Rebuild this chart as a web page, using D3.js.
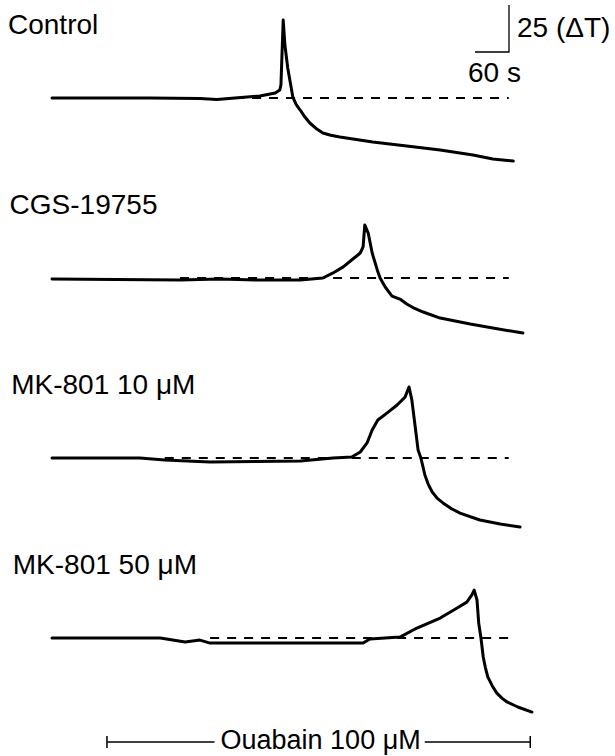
<!DOCTYPE html>
<html>
<head>
<meta charset="utf-8">
<script src="https://cdn.jsdelivr.net/npm/d3@7"></script>
<style>
  body { margin: 0; background: #fff; }
  svg { display: block; }
  text { font-family: "Liberation Sans", Arial, sans-serif; font-size: 28px; fill: #000; }
</style>
</head>
<body>
<svg width="615" height="756"></svg>
<script>
'use strict'

// trace names, top to bottom
const traces = ['Control', 'CGS-19755', 'MK-801 10 \u03bcM', 'MK-801 50 \u03bcM'];

// time (s) and temperature change (ΔT, relative to baseline)
const controlT = [0, 173, 261, 291, 323, 367, 394, 402, 404, 408, 411, 416, 425, 431, 438, 446, 455, 466, 478, 492, 508, 566, 626, 685, 743, 778, 814];
const controlV = [0, 0, -0.3, -0.8, 0, 1.1, 2.7, 4.3, 6.9, 41.5, 28.2, 16, 0.5, -3.5, -6.4, -10.0, -13.3, -16.2, -18.6, -19.8, -20.7, -23.4, -25.5, -27.7, -30.3, -32.4, -33.5];

const cgsT = [0, 226, 296, 367, 438, 478, 496, 514, 531, 544, 549, 552, 558, 565, 574, 579, 588, 600, 614, 626, 640, 655, 685, 738, 778, 831];
const cgsV = [-0.5, -1.1, -0.5, -1.1, -1.1, 0, 2.7, 5.9, 10.1, 13.3, 16.5, 28.2, 23.9, 13.3, 4.3, 0, -4.8, -9.6, -11.2, -13.8, -16.2, -18.1, -21.3, -24.5, -26.6, -29.3];

const mk10T = [0, 155, 199, 279, 438, 496, 529, 544, 556, 565, 575, 591, 609, 623, 630, 635, 641, 646, 651, 658, 664, 671, 680, 690, 705, 720, 755, 791, 826];
const mk10V = [0, 0, -1.1, -2.1, -1.6, 0, 0.5, 3.2, 8.0, 14.9, 20.2, 23.9, 28.2, 32.4, 37.8, 30.9, 16.5, 4.3, 0, -9.0, -14.0, -18.1, -21.5, -23.9, -27.0, -29.3, -33.0, -35.1, -36.7];

const mk50T = [0, 191, 235, 261, 279, 438, 549, 561, 614, 644, 685, 715, 732, 741, 745, 750, 753, 757, 761, 765, 769, 777, 785, 794, 803, 822, 847];
const mk50V = [0, 0, -2.1, -1.1, -2.7, -2.7, -2.7, -0.5, 0.5, 5.3, 10.6, 16.0, 19.1, 22.9, 25.5, 20.2, 8.0, 0, -10.1, -16.0, -20.7, -25.5, -29.3, -32.0, -34.0, -36.7, -39.4];

// dashed baseline extent (s) for each trace
const dashStart = [323, 226, 199, 279];
const dashEnd = 806;

// ouabain application (s)
const ouabain = [97, 844];
const ouabainLabel = 'Ouabain 100 \u03bcM';

// scale bar
const barTime = 60;
const barTemp = 25;

const series = [
  { name: traces[0], t: controlT, v: controlV },
  { name: traces[1], t: cgsT, v: cgsV },
  { name: traces[2], t: mk10T, v: mk10V },
  { name: traces[3], t: mk50T, v: mk50V }
].map((s, i) => ({ ...s, dash: dashStart[i], pts: s.t.map((t, j) => ({ t: t, v: s.v[j] })) }));

const svg = d3.select('svg');

const x = d3.scaleLinear().domain([0, 60]).range([52, 86]);
const base = d3.scalePoint().domain(traces).range([98, 638]);
const dy = d3.scaleLinear().domain([0, 25]).range([0, 47]);

const line = d3.line()
  .x(d => x(d.t))
  .y(d => d.y);

const g = svg.selectAll('g.trace')
  .data(series)
  .join('g')
  .attr('class', 'trace');

// dashed baseline
g.append('line')
  .attr('x1', d => x(d.dash))
  .attr('x2', x(dashEnd))
  .attr('y1', d => base(d.name))
  .attr('y2', d => base(d.name))
  .attr('stroke', '#000')
  .attr('stroke-width', 2)
  .attr('stroke-dasharray', '9,8');

// trace
g.append('path')
  .attr('d', d => line(d.pts.map(p => ({ t: p.t, y: base(d.name) - dy(p.v) }))))
  .attr('fill', 'none')
  .attr('stroke', '#000')
  .attr('stroke-width', 3)
  .attr('stroke-linejoin', 'round')
  .attr('stroke-linecap', 'round');

// label
g.append('text')
  .attr('x', (d, i) => 8 + i * 1.6)
  .attr('y', d => base(d.name) - 64)
  .text(d => d.name);

// scale bar, top right
const bx = 509, by = 52;
svg.append('path')
  .attr('d', `M${bx - (x(barTime) - x(0))},${by}H${bx}V${by - dy(barTemp)}`)
  .attr('fill', 'none')
  .attr('stroke', '#000')
  .attr('stroke-width', 1.3);
svg.append('text').attr('x', bx + 8).attr('y', 37).text('25 (\u0394T)');
svg.append('text').attr('x', 468).attr('y', 82).text(barTime + ' s');

// ouabain bar
const oy = 742;
const lab = svg.append('text')
  .attr('x', (x(ouabain[0]) + x(ouabain[1])) / 2 + 2)
  .attr('y', 749)
  .attr('text-anchor', 'middle')
  .style('font-size', '27px')
  .text(ouabainLabel);
const bb = lab.node().getBBox();
svg.append('path')
  .attr('d', `M${x(ouabain[0])},${oy}H${bb.x - 6}M${bb.x + bb.width + 4},${oy}H${x(ouabain[1])}` +
    `M${x(ouabain[0])},${oy - 6}V${oy + 6}M${x(ouabain[1])},${oy - 6}V${oy + 6}`)
  .attr('fill', 'none')
  .attr('stroke', '#000')
  .attr('stroke-width', 1.5);
</script>
</body>
</html>
